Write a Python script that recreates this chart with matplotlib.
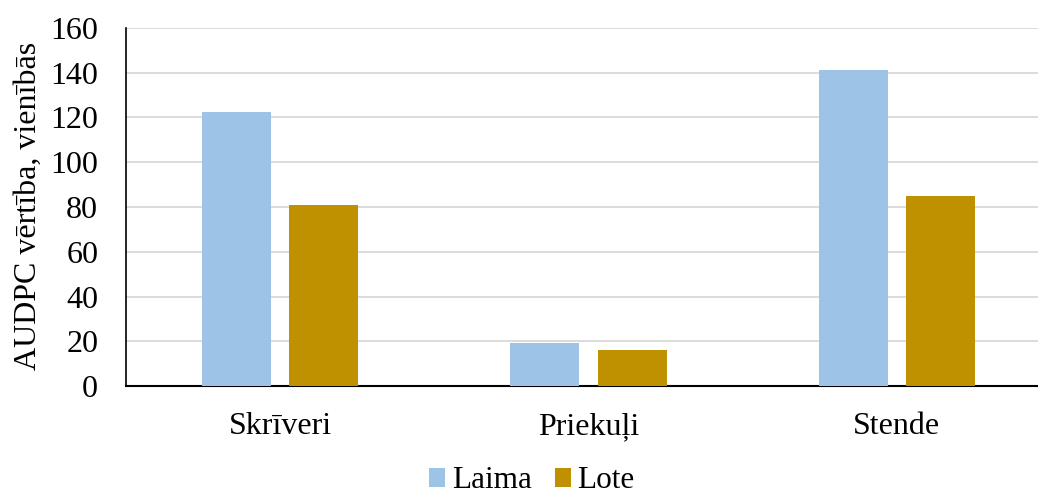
import matplotlib
matplotlib.use("Agg")
import matplotlib.pyplot as plt
import numpy as np
from matplotlib.patches import Patch

# AUDPC values per location and variety
locations = ["Skrīveri", "Priekuļi", "Stende"]
laima = [122.5, 19.1, 141.2]
lote = [80.9, 16.0, 84.8]
series_names = ["Laima", "Lote"]
y_ticks = [0, 20, 40, 60, 80, 100, 120, 140, 160]

colors = ["#9DC3E6", "#BF9000"]

plt.rcParams["font.family"] = ["Liberation Serif", "DejaVu Serif"]

W, H = 1038, 496
fig = plt.figure(figsize=(W / 100, H / 100), dpi=100)
# axes extends slightly past the right edge of the figure
left, right, top, bottom = 126, 1051, 28, 386
ax = fig.add_axes([left / W, 1 - bottom / H, (right - left) / W, (bottom - top) / H])

x = np.arange(len(locations))
bw = 0.224
off = 0.142
ax.bar(x - off, laima, width=bw, color=colors[0], zorder=3)
ax.bar(x + off, lote, width=bw, color=colors[1], zorder=3)

ax.set_xlim(-0.5, len(locations) - 0.5)
ax.set_ylim(0, 160)
ax.set_yticks(y_ticks)
ax.set_xticks(x)
ax.set_xticklabels(locations)

ax.yaxis.grid(True, color="#D9D9D9", linewidth=1.3, zorder=0)
ax.set_axisbelow(True)
for s in ["top", "right"]:
    ax.spines[s].set_visible(False)
ax.spines["left"].set_color("black")
ax.spines["bottom"].set_color("black")
ax.spines["left"].set_linewidth(1.2)
ax.spines["bottom"].set_linewidth(1.5)

ax.tick_params(axis="y", length=0, pad=20, labelsize=23)
ax.tick_params(axis="x", length=0, pad=19, labelsize=23)

fig.text(28 / W, 1 - 206 / H, "AUDPC vērtība, vienībās", rotation=90,
         ha="center", va="center", fontsize=23)

handles = [Patch(facecolor=c, edgecolor="none") for c in colors]
fig.legend(handles, series_names, loc="center",
           bbox_to_anchor=(532 / W, 1 - 481 / H), ncol=2, frameon=False,
           fontsize=22.5, handlelength=0.52, handleheight=0.52,
           handletextpad=0.2, columnspacing=0.75, borderpad=0.2)

fig.savefig("out.png", dpi=100)
